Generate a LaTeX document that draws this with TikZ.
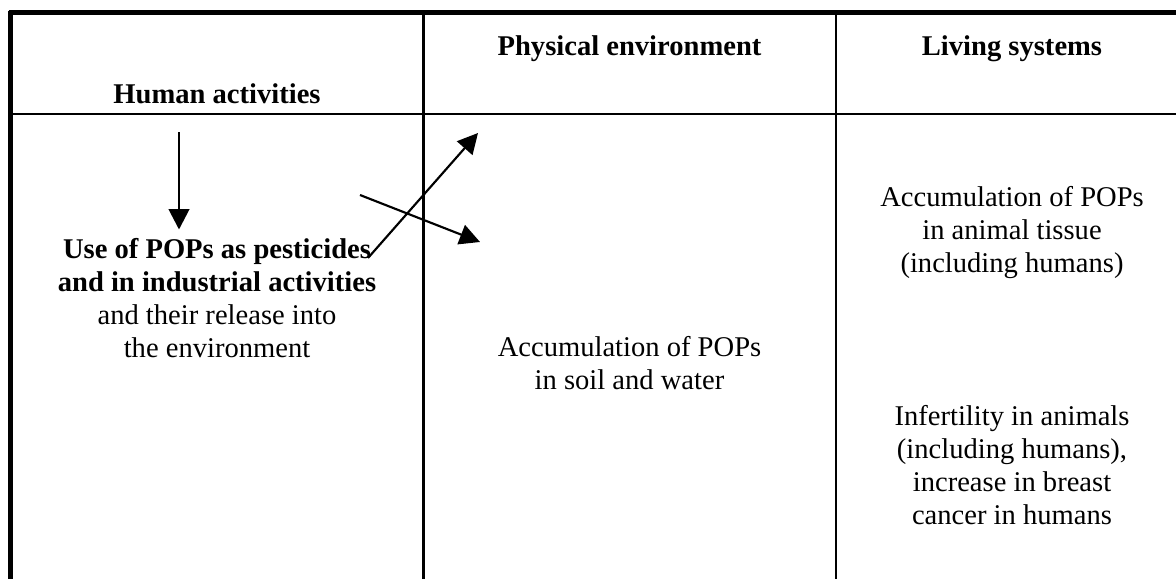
\documentclass[tikz,border=0pt]{standalone}
\usepackage{fontspec}
\setmainfont{Liberation Serif}
\usetikzlibrary{arrows.meta}

\tikzset{
  colhead/.style={anchor=base, font={\fontsize{12}{13.86}\selectfont\bfseries}},
  celltext/.style={anchor=base, align=center},
  heavyrule/.style={line width=1.8pt},
  thinrule/.style={line width=1pt},
  flow/.style={line width=0.9pt, -{Triangle[length=8.5pt,width=8.6pt]}},
}

\begin{document}
\begin{tikzpicture}[x=0.42pt,y=-0.42pt,every node/.style={font=\fontsize{12}{13.86}\selectfont}]
  \useasboundingbox (0,0) rectangle (1176,579);
  % table rules
  \draw[heavyrule] (8.5,12.5) -- (1176,12.5);
  \draw[heavyrule] (10.5,11) -- (10.5,579);
  \draw[thinrule] (10.5,114) -- (1176,114);
  \draw[thinrule] (423.5,12.5) -- (423.5,579);
  \draw[thinrule] (835.7,12.5) -- (835.7,579);
  % column heads
  \node[colhead] (hum) at (217,103) {Human activities};
  \node[colhead] (phys) at (629.5,55) {Physical environment};
  \node[colhead] (liv) at (1012,55) {Living systems};
  % cells (placed by the baseline of their last line)
  \node[celltext] (use) at (217,357) {\textbf{Use of POPs as pesticides}\\\textbf{and in industrial activities}\\and their release into\\the environment};
  \node[celltext] (soil) at (629.5,389) {Accumulation of POPs\\in soil and water};
  \node[celltext] (tissue) at (1012,272) {Accumulation of POPs\\in animal tissue\\(including humans)};
  \node[celltext] (infert) at (1012,524) {Infertility in animals\\(including humans),\\increase in breast\\cancer in humans};
  % arrows
  \coordinate (dstart) at (179,132);
  \coordinate (ustart) at (368,258);
  \coordinate (uend) at (478,133);
  \coordinate (xstart) at (360,195);
  \coordinate (xend) at (480,242);
  \draw[flow] (dstart) -- (dstart |- use.north);
  \draw[flow] (ustart) -- (uend);
  \draw[flow] (xstart) -- (xend);
\end{tikzpicture}
\end{document}
